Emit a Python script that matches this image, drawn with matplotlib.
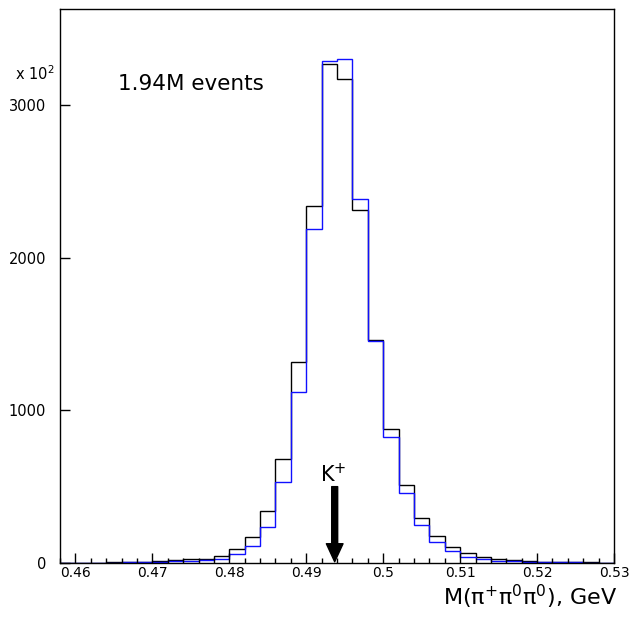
import numpy as np
import matplotlib
matplotlib.use("Agg")
import matplotlib.pyplot as plt
from matplotlib.ticker import MultipleLocator

# Histogram bin edges: 0.458 .. 0.530 GeV, 0.002 GeV wide (36 bins)
bin_lo = 0.458
bin_width = 0.002
n_bins = 36

# Counts in units of 10^2
black_counts = [2, 3, 3, 4, 5, 7, 10, 20, 24, 29, 49, 92, 172, 340, 681, 1318,
                2340, 3268, 3170, 2312, 1458, 875, 513, 297, 177, 107, 63, 41,
                26, 18, 12, 9, 7, 5, 4, 3]
blue_counts = [2, 2, 3, 3, 4, 5, 6, 10, 13, 18, 28, 61, 111, 238, 530, 1122,
               2185, 3287, 3303, 2382, 1455, 828, 460, 251, 140, 79, 39, 26,
               13, 10, 8, 6, 5, 4, 3, 3]

x_ticks = [0.46, 0.47, 0.48, 0.49, 0.5, 0.51, 0.52, 0.53]
x_tick_labels = ["0.46", "0.47", "0.48", "0.49", "0.5", "0.51", "0.52", "0.53"]
y_ticks = [0, 1000, 2000, 3000]
y_tick_labels = ["0", "1000", "2000", "3000"]

kaon_mass = 0.4937
events_label = "1.94M events"
x_label = r"M($\mathregular{\pi^{+}\pi^{0}\pi^{0}}$), GeV"

plt.rcParams['font.family'] = ['DejaVu Sans']
plt.rcParams['mathtext.fontset'] = 'dejavusans'

edges = bin_lo + bin_width * np.arange(n_bins + 1)

fig = plt.figure(figsize=(6.33, 6.18), dpi=100)
ax = fig.add_axes([60 / 633, 55 / 618, 554 / 633, 554 / 618])

ax.stairs(black_counts, edges, color='black', linewidth=1.0, baseline=0)
ax.stairs(blue_counts, edges, color='#1010ff', linewidth=1.0, baseline=0)

ax.set_xlim(0.458, 0.53)
ax.set_ylim(0, 3628)

ax.set_xticks(x_ticks)
ax.set_xticklabels(x_tick_labels, fontsize=10)
ax.xaxis.set_minor_locator(MultipleLocator(0.002))
ax.set_yticks(y_ticks)
ax.set_yticklabels(y_tick_labels, fontsize=10.5)
ax.tick_params(axis='x', which='major', direction='in', length=7, width=1, pad=2)
ax.tick_params(axis='x', which='minor', direction='in', length=3.5, width=1)
ax.tick_params(axis='y', which='major', direction='in', length=7, width=1, pad=10)
for s in ax.spines.values():
    s.set_linewidth(1.0)

fig.text(617 / 633, 1 - 605 / 618, x_label, fontsize=16, ha='right', va='baseline')

ax.text(0.4655, 3098, events_label, fontsize=15.5, ha='left', va='baseline')
fig.text(15 / 633, 1 - 80 / 618, r"x 10$^{2}$", fontsize=10.5, ha='left', va='baseline')

ax.annotate('', xy=(kaon_mass, 8), xytext=(kaon_mass, 500),
            arrowprops=dict(facecolor='black', edgecolor='black', width=4.3,
                            headwidth=12, headlength=13, shrink=0))
ax.text(kaon_mass - 0.0002, 530, r"K$^{+}$", fontsize=15, ha='center', va='baseline')

fig.savefig("out.png", dpi=100, facecolor='white')
